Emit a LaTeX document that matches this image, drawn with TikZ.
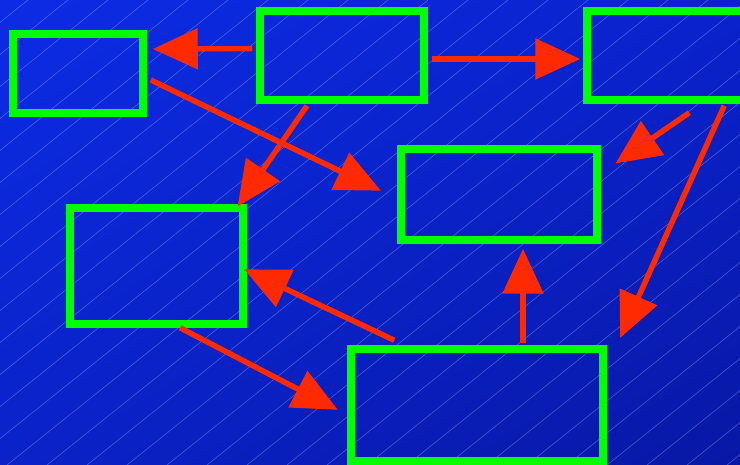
\documentclass[tikz,border=0pt]{standalone}
\usepackage{tikz}
\usetikzlibrary{arrows.meta,calc,positioning,shadings}

\definecolor{bgtl}{RGB}{12,44,228}
\definecolor{bgtr}{RGB}{10,34,205}
\definecolor{bgbl}{RGB}{10,34,200}
\definecolor{bgbr}{RGB}{8,24,165}
\definecolor{boxgreen}{RGB}{0,255,0}
\definecolor{arrred}{RGB}{255,42,0}

\begin{document}
\begin{tikzpicture}[x=1pt,y=-1pt,>={Triangle[length=45pt,width=40pt]},
      box/.style={draw=boxgreen,line width=7.5pt,inner sep=0pt},
      flow/.style={->,draw=arrred,fill=arrred,line width=5.5pt,shorten >=-4pt},
      bgline/.style={white,opacity=.3,line width=.5pt}]
	\useasboundingbox (0,0) rectangle (740,465);
	\clip (0,0) rectangle (740,465);
	% background
	\shade[upper left=bgtl,upper right=bgtr,lower left=bgbl,lower right=bgbr]
		(0,0) rectangle (740,465);
	\foreach \i in {0,...,34}
		\draw[bgline] (\i*40-12,0) -- ++(-581,465);
	% boxes
	\node[box,minimum width=130pt,minimum height=79pt] (A) at (78,73.5) {};
	\node[box,minimum width=164pt,minimum height=89pt] (B) at (342,55.5) {};
	\node[box,minimum width=183pt,minimum height=89pt] (C) at (678.5,55.5) {};
	\node[box,minimum width=196pt,minimum height=91pt] (D) at (499,194.5) {};
	\node[box,minimum width=173pt,minimum height=116pt] (E) at (156.5,266) {};
	\node[box,minimum width=252pt,minimum height=112pt] (F) at (477,405) {};
	% arrows
	\draw[flow] ($(B.west)+(-4,-7)$) -- ($(A.east)+(10,-24.5)$);
	\draw[flow] ($(B.east)+(4,3.5)$) -- ($(C.west)+(-7,3.5)$);
	\draw[flow] ($(A.east)+(4,6.5)$) -- ($(D.west)+(-20,-5.5)$);
	\draw[flow] ($(B.south)+(-35,2)$) -- ($(E.north east)+(-7,-1)$);
	\draw[flow] ($(C.south west)+(106,9)$) -- ($(D.north east)+(18,16)$);
	\draw[flow] ($(C.south west)+(141,2)$) -- ($(F.north east)+(15,-11)$);
	\draw[flow] ($(F.north west)+(47,-5)$) -- ($(E.east)+(1,5)$);
	\draw[flow] ($(E.south)+(23.5,0)$) -- ($(F.west)+(-13,3)$);
	\draw[flow] ($(F.north)+(46,-2)$) -- ($(D.south)+(24,9)$);
\end{tikzpicture}
\end{document}
